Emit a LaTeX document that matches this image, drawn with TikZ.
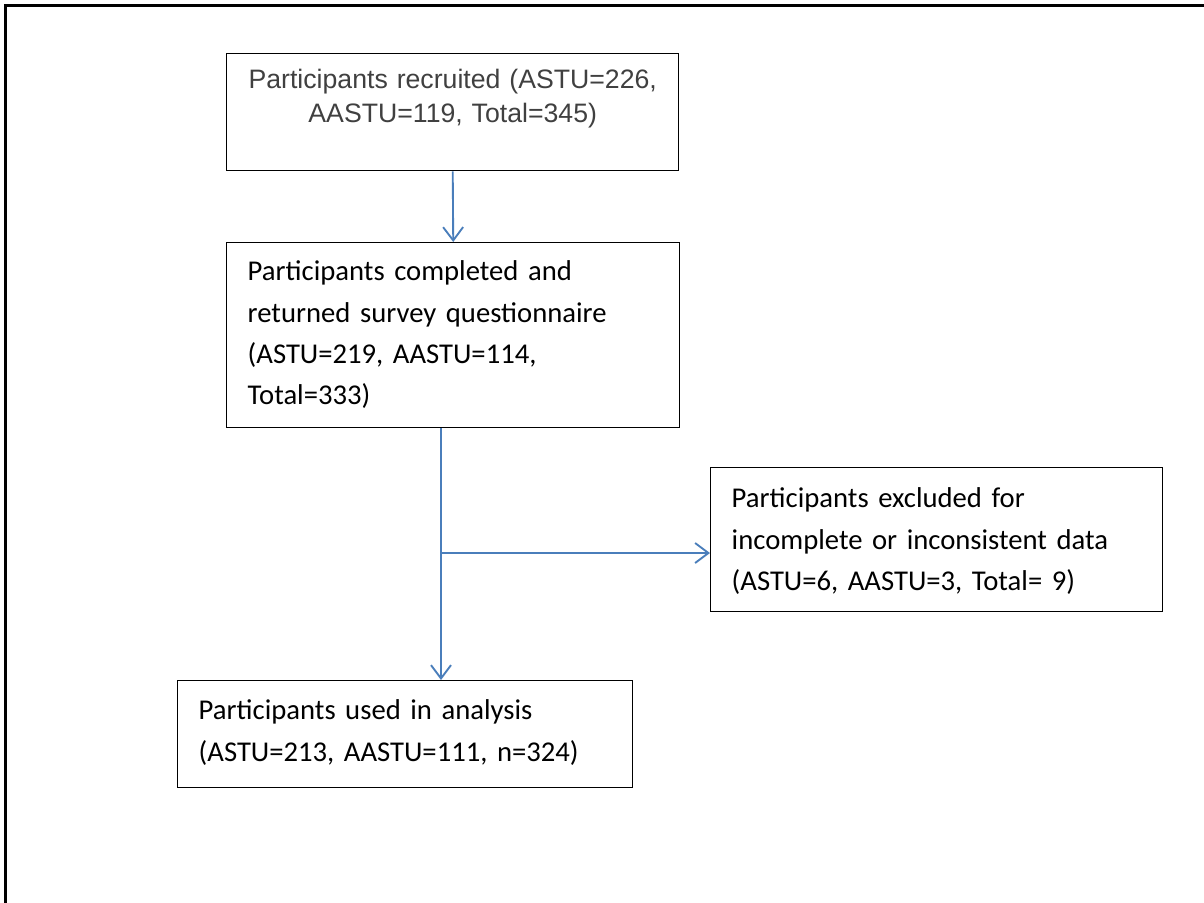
\documentclass[tikz,border=0pt]{standalone}
\usepackage{fontspec}
\setmainfont{Carlito}
\newfontfamily\arialfont{Liberation Sans}
\usepackage{tikz}
\usetikzlibrary{arrows.meta}
\definecolor{flowblue}{RGB}{74,126,187}
\definecolor{textgrey}{RGB}{64,64,64}

\begin{document}
\begin{tikzpicture}[x=0.75pt,y=-0.75pt,
        stagebox/.style={draw=black, line width=1.1pt, anchor=north west, inner ysep=0pt, inner xsep=15.75pt, align=left, font=\fontsize{21.5}{31}\selectfont},
        flow/.style={draw=flowblue, line width=1.4pt, -{Straight Barb[length=10pt,width=15pt]}}
    ]
        \useasboundingbox (0,0) rectangle (1204,903);

        % Frame
        \draw[line width=2.25pt] (1204,5) -- (5,5) -- (5,903);

        % Recruited
        \node[stagebox, inner xsep=0pt, align=center, text=textgrey, font=\arialfont\fontsize{20}{25}\selectfont,
              text width=339pt, text height=26.25pt, text depth=61.5pt] (recruited) at (226,53)
              {Participants recruited (ASTU=226,\\AASTU=119, Total=345)};

        % Returned
        \node[stagebox, text width=308.25pt, text height=28.5pt, text depth=110.25pt] (returned) at (226,242)
              {Participants completed and\\returned survey questionnaire\\(ASTU=219, AASTU=114,\\Total=333)};

        % Excluded
        \node[stagebox, text width=307.5pt, text height=30pt, text depth=78pt] (excluded) at (710,467)
              {Participants excluded for\\incomplete or inconsistent data\\(ASTU=6, AASTU=3, Total= 9)};

        % Analysed
        \node[stagebox, text width=309.75pt, text height=29.25pt, text depth=51pt] (analysed) at (177,680)
              {Participants used in analysis\\(ASTU=213, AASTU=111, n=324)};

        % Arrows
        \coordinate (split) at (441,553);
        \draw[flow] (recruited.south) -- (returned.north);
        \draw[flow] (returned.south -| split) -- (analysed.north -| split);
        \draw[flow] (split) -- (split -| excluded.west);

    \end{tikzpicture}
\end{document}
